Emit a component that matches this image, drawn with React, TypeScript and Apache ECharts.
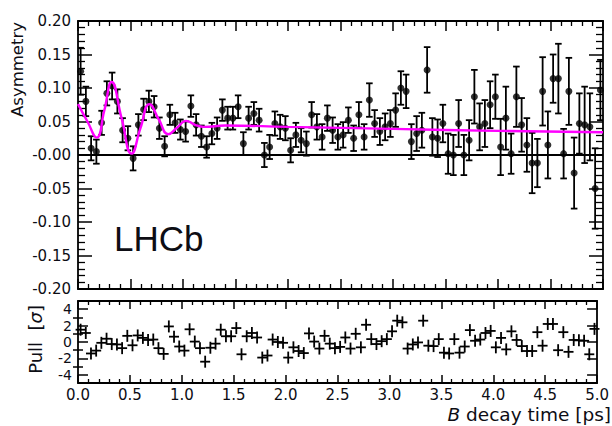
import React, { useEffect, useRef } from "react";
import * as echarts from "echarts";

// B decay time bin centres [ps]
const binCenters = [
  0.025, 0.075, 0.125, 0.175, 0.225, 0.275, 0.325, 0.375, 0.425, 0.475,
  0.525, 0.575, 0.625, 0.675, 0.725, 0.775, 0.825, 0.875, 0.925, 0.975,
  1.025, 1.075, 1.125, 1.175, 1.225, 1.275, 1.325, 1.375, 1.425, 1.475,
  1.525, 1.575, 1.625, 1.675, 1.725, 1.775, 1.825, 1.875, 1.925, 1.975,
  2.025, 2.075, 2.125, 2.175, 2.225, 2.275, 2.325, 2.375, 2.425, 2.475,
  2.525, 2.575, 2.625, 2.675, 2.725, 2.775, 2.825, 2.875, 2.925, 2.975,
  3.025, 3.075, 3.125, 3.175, 3.225, 3.275, 3.325, 3.375, 3.425, 3.475,
  3.525, 3.575, 3.625, 3.675, 3.725, 3.775, 3.825, 3.875, 3.925, 3.975,
  4.025, 4.075, 4.125, 4.175, 4.225, 4.275, 4.325, 4.375, 4.425, 4.475,
  4.525, 4.575, 4.625, 4.675, 4.725, 4.775, 4.825, 4.875, 4.925, 4.975,
];

// measured asymmetry per bin
const asymmetry = [
  0.125, 0.080, 0.010, 0.005, 0.048, 0.092, 0.103, 0.080, 0.037, 0.025,
  -0.005, 0.045, 0.068, 0.080, 0.072, 0.040, 0.013, 0.060, 0.048, 0.038,
  0.035, 0.073, 0.045, 0.028, 0.012, 0.032, 0.040, 0.067, 0.055, 0.055,
  0.072, 0.017, 0.055, 0.062, 0.052, 0.000, 0.012, 0.047, 0.042, 0.040,
  0.007, 0.030, 0.022, 0.017, 0.060, 0.042, 0.027, 0.055, 0.037, 0.027,
  0.030, 0.052, 0.025, 0.060, 0.027, 0.082, 0.047, 0.035, 0.042, 0.047,
  0.067, 0.100, 0.095, 0.020, 0.032, 0.037, 0.127, 0.027, 0.025, 0.047,
  0.002, 0.000, 0.047, 0.000, 0.022, 0.087, 0.042, 0.047, 0.075, 0.087,
  0.012, 0.055, 0.002, 0.087, 0.045, 0.015, -0.012, -0.012, 0.095, 0.015,
  0.114, 0.114, 0.002, 0.095, -0.027, 0.047, 0.045, 0.042, -0.050, 0.097,
];

// statistical uncertainty per bin
const asymmetryError = [
  0.035, 0.022, 0.018, 0.018, 0.018, 0.018, 0.020, 0.018, 0.018, 0.018,
  0.018, 0.016, 0.016, 0.016, 0.016, 0.016, 0.015, 0.015, 0.015, 0.015,
  0.015, 0.016, 0.016, 0.016, 0.016, 0.016, 0.016, 0.016, 0.017, 0.017,
  0.017, 0.017, 0.017, 0.017, 0.017, 0.018, 0.018, 0.018, 0.018, 0.018,
  0.018, 0.018, 0.018, 0.018, 0.019, 0.019, 0.019, 0.019, 0.019, 0.019,
  0.019, 0.019, 0.019, 0.019, 0.019, 0.025, 0.020, 0.020, 0.020, 0.020,
  0.025, 0.025, 0.025, 0.026, 0.026, 0.026, 0.034, 0.028, 0.028, 0.028,
  0.030, 0.030, 0.035, 0.030, 0.030, 0.040, 0.035, 0.035, 0.035, 0.033,
  0.042, 0.047, 0.030, 0.045, 0.040, 0.040, 0.045, 0.036, 0.051, 0.050,
  0.036, 0.052, 0.037, 0.050, 0.053, 0.045, 0.057, 0.050, 0.060, 0.045,
];

// pull of each bin [sigma]
const pulls = [
  1.5, 1.1, -1.4, -1.05, -0.1, 0.4, -0.25, -0.3, -0.75, 0.75,
  -0.4, 0.8, 0.5, 0.25, 0.3, -0.75, -1.45, 1.9, 0.65, -0.55,
  -1.05, 1.55, 0.05, -0.75, -2.4, -0.7, -0.2, 1.5, 0.7, 0.7,
  1.7, -1.5, 0.7, 1.1, 0.55, -1.9, -1.65, 0.3, 0.0, -0.1,
  -1.9, -0.65, -1.1, -1.35, 1.05, 0.05, -0.8, 0.75, -0.2, -0.75,
  -0.6, 0.55, -0.8, 1.0, -0.65, 2.1, 0.35, -0.25, 0.1, 0.35,
  1.3, 2.6, 2.4, -0.8, -0.3, -0.05, 2.6, -0.45, -0.5, 0.35,
  -1.3, -1.4, 0.35, -1.3, -0.55, 1.45, 0.15, 0.3, 1.1, 1.35,
  -0.65, 0.5, -0.9, 1.3, 0.25, -0.5, -1.1, -1.1, 1.2, -0.45,
  2.2, 2.2, -1.0, 1.2, -1.2, 0.25, 0.2, 0.15, -1.5, 1.6,
];

// fit curve read at its turning points
const fitTime = [
  0, 0.09, 0.178, 0.25, 0.32, 0.415, 0.51, 0.595, 0.68, 0.77,
  0.86, 0.945, 1.03, 1.115, 1.2, 1.4, 2.0, 3.0, 4.0, 5.0,
];
const fitValue = [
  0.076, 0.05, 0.026, 0.066, 0.109, 0.055, 0.002, 0.04, 0.076, 0.053,
  0.031, 0.041, 0.051, 0.045, 0.042, 0.044, 0.042, 0.039, 0.036, 0.034,
];

const asymTicks = [-0.2, -0.15, -0.1, -0.05, 0, 0.05, 0.1, 0.15, 0.2];
const pullMajorTicks = [-4, -2, 0, 2, 4];
const pullMinorTicks = [-3, -1, 1, 3];

const INK = "#0d0d14";
const FONT = "DejaVu Sans";

export default function App() {
  const ref = useRef<HTMLDivElement>(null);

  useEffect(() => {
    if (!ref.current) return;
    const chart = echarts.init(ref.current, undefined, { renderer: "svg" });

    const line = { show: true, onZero: false, lineStyle: { color: "#000", width: 1.8 } };
    const noSplit = { show: false };

    const xBase = (grid: number, pos: string, labels: boolean, major: number, minor: number) => ({
      type: "value",
      gridIndex: grid,
      position: pos,
      min: 0,
      max: 5,
      interval: 0.5,
      axisLine: line,
      axisTick: { show: true, inside: true, length: major, lineStyle: { color: "#000", width: 1.5 } },
      minorTick: { show: true, splitNumber: 5, length: minor, lineStyle: { color: "#000", width: 1.3 } },
      splitLine: noSplit,
      minorSplitLine: noSplit,
      axisLabel: labels
        ? {
            show: true,
            margin: 4,
            fontSize: 15,
            fontFamily: FONT,
            color: INK,
            formatter: (v: number) => v.toFixed(1),
          }
        : { show: false },
    });

    const yAsym = (pos: string, labels: boolean) => ({
      type: "value",
      gridIndex: 0,
      position: pos,
      min: -0.2,
      max: 0.2,
      interval: 0.05,
      axisLine: line,
      axisTick: { show: true, inside: true, length: 14, lineStyle: { color: "#000", width: 1.5 } },
      minorTick: { show: true, splitNumber: 5, length: 7, lineStyle: { color: "#000", width: 1.3 } },
      splitLine: noSplit,
      minorSplitLine: noSplit,
      axisLabel: labels
        ? {
            show: true,
            margin: 7,
            fontSize: 15,
            fontFamily: FONT,
            color: INK,
            customValues: asymTicks,
            formatter: (v: number) => (Math.abs(v) < 1e-9 ? "-0.00" : v.toFixed(2)),
          }
        : { show: false },
    });

    const yPull = (pos: string, labels: boolean, ticks: number[], len: number, withLine: boolean) => ({
      type: "value",
      gridIndex: 1,
      position: pos,
      min: -5,
      max: 5,
      interval: 1,
      axisLine: withLine ? line : { show: false },
      axisTick: {
        show: true,
        inside: true,
        length: len,
        customValues: ticks,
        lineStyle: { color: "#000", width: 1.5 },
      },
      minorTick: { show: false },
      splitLine: noSplit,
      axisLabel: labels
        ? {
            show: true,
            margin: 6,
            fontSize: 14,
            fontFamily: FONT,
            color: INK,
            customValues: pullMajorTicks,
            formatter: (v: number) => String(v),
          }
        : { show: false },
    });

    const points = binCenters.map((t, i) => [t, asymmetry[i], asymmetryError[i]]);
    const pullPoints = binCenters.map((t, i) => [t, pulls[i]]);
    const fitLine = fitTime.map((t, i) => [t, fitValue[i]]);

    const stroke = { stroke: "#000", lineWidth: 1.8 };

    chart.setOption({
      animation: false,
      backgroundColor: "#fff",
      grid: [
        { left: 78, top: 21, width: 525, height: 268 },
        { left: 78, top: 301, width: 525, height: 82 },
      ],
      xAxis: [
        xBase(0, "bottom", false, 10, 5),
        xBase(0, "top", false, 10, 5),
        xBase(1, "bottom", true, 8, 4),
        xBase(1, "top", false, 8, 4),
      ],
      yAxis: [
        yAsym("left", true),
        yAsym("right", false),
        yPull("left", true, pullMajorTicks, 10, true),
        yPull("right", false, pullMajorTicks, 10, true),
        yPull("left", false, pullMinorTicks, 5, false),
        yPull("right", false, pullMinorTicks, 5, false),
      ],
      series: [
        {
          type: "line",
          xAxisIndex: 0,
          yAxisIndex: 0,
          data: [
            [0, 0],
            [5, 0],
          ],
          symbol: "none",
          lineStyle: { color: "#000", width: 1.8 },
          z: 1,
        },
        {
          type: "custom",
          xAxisIndex: 0,
          yAxisIndex: 0,
          data: points,
          clip: true,
          z: 2,
          renderItem: (_p: any, api: any) => {
            const t = api.value(0);
            const v = api.value(1);
            const e = api.value(2);
            const a = api.coord([t, v + e]);
            const b = api.coord([t, v - e]);
            const c = 3.3;
            return {
              type: "group",
              children: [
                { type: "line", shape: { x1: a[0], y1: a[1], x2: b[0], y2: b[1] }, style: stroke },
                { type: "line", shape: { x1: a[0] - c, y1: a[1], x2: a[0] + c, y2: a[1] }, style: stroke },
                { type: "line", shape: { x1: b[0] - c, y1: b[1], x2: b[0] + c, y2: b[1] }, style: stroke },
              ],
            };
          },
        },
        {
          type: "scatter",
          xAxisIndex: 0,
          yAxisIndex: 0,
          data: points.map((p) => [p[0], p[1]]),
          symbol: "circle",
          symbolSize: 7,
          itemStyle: { color: "#000" },
          z: 3,
        },
        {
          type: "line",
          xAxisIndex: 0,
          yAxisIndex: 0,
          data: fitLine,
          smooth: 0.5,
          symbol: "none",
          lineStyle: { color: "#ff00ff", width: 2.4 },
          z: 4,
        },
        {
          type: "custom",
          xAxisIndex: 2,
          yAxisIndex: 2,
          data: pullPoints,
          z: 2,
          renderItem: (_p: any, api: any) => {
            const c = api.coord([api.value(0), api.value(1)]);
            const hw = 5;
            const hh = 6;
            return {
              type: "group",
              children: [
                { type: "line", shape: { x1: c[0] - hw, y1: c[1], x2: c[0] + hw, y2: c[1] }, style: stroke },
                { type: "line", shape: { x1: c[0], y1: c[1] - hh, x2: c[0], y2: c[1] + hh }, style: stroke },
              ],
            };
          },
        },
      ],
      graphic: [
        {
          type: "text",
          x: 17,
          y: 22,
          rotation: Math.PI / 2,
          style: {
            text: "Asymmetry",
            fontSize: 16.5,
            fontFamily: FONT,
            fill: INK,
            align: "right",
            verticalAlign: "middle",
          },
        },
        {
          type: "text",
          x: 35,
          y: 305,
          rotation: Math.PI / 2,
          style: {
            text: "{n|Pull  [}{i|σ}{n|]}",
            fontSize: 18,
            fontFamily: FONT,
            fill: INK,
            align: "right",
            verticalAlign: "middle",
            rich: {
              n: { fontSize: 18, fontFamily: FONT, fill: INK },
              i: { fontSize: 18, fontFamily: FONT, fontStyle: "italic", fill: INK },
            },
          },
        },
        {
          type: "text",
          x: 611,
          y: 414,
          style: {
            text: "{i|B}{n| decay time [ps]}",
            fontSize: 18.5,
            fontFamily: FONT,
            fill: INK,
            align: "right",
            verticalAlign: "middle",
            rich: {
              i: { fontSize: 18.5, fontFamily: FONT, fontStyle: "italic", fill: INK },
              n: { fontSize: 18.5, fontFamily: FONT, fill: INK },
            },
          },
        },
        {
          type: "text",
          x: 114,
          y: 238,
          style: {
            text: "LHCb",
            fontSize: 35,
            fontFamily: "Liberation Sans",
            fill: INK,
            align: "left",
            verticalAlign: "middle",
          },
        },
      ],
    });

    return () => chart.dispose();
  }, []);

  return (
    <div
      ref={ref}
      style={{ position: "absolute", left: 0, top: 0, width: 612, height: 426, background: "#fff" }}
    />
  );
}
